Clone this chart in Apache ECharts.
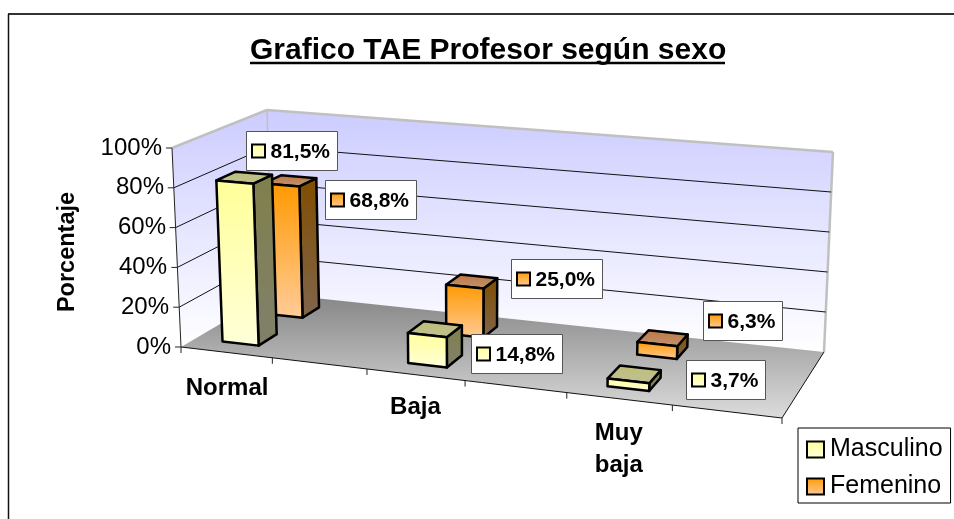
<!DOCTYPE html>
<html lang="es">
<head>
<meta charset="UTF-8">
<title>Grafico TAE Profesor según sexo</title>
<script src="https://cdn.jsdelivr.net/npm/echarts@6/dist/echarts.min.js"></script>
<style>
    html, body { margin: 0; padding: 0; height: 100%; overflow: hidden; background: #fff; }
    #chart { width: 954px; height: 519px; }
</style>
</head>
<body>
<div id="chart"></div>
<script>
    // data (blank categories are the empty slots between groups)
    var categories = ['Normal', '', 'Baja', '', 'Muy baja', ''];
    var masculino = [81.5, null, 14.8, null, 3.7, null];
    var femenino = [68.8, null, 25.0, null, 6.3, null];
    var yTicks = [0, 20, 40, 60, 80, 100];

    // floor corners and wall height vectors of the 3d box, in pixels
    var FL = [181, 347], FR = [782, 418], BR = [824, 352], BL = [272, 293.5];
    var hFL = [-9, -199], hFR = [8, -216], hBR = [9, -200], hBL = [-5, -183.5];
    var FONT = 'Liberation Sans';

    // homography of the unit square to the floor quad
    var sx = FL[0] - FR[0] + BR[0] - BL[0], sy = FL[1] - FR[1] + BR[1] - BL[1];
    var dx1 = FR[0] - BR[0], dx2 = BL[0] - BR[0], dy1 = FR[1] - BR[1], dy2 = BL[1] - BR[1];
    var den = dx1 * dy2 - dx2 * dy1;
    var g = (sx * dy2 - dx2 * sy) / den, h = (dx1 * sy - sx * dy1) / den;

    function project(u, v, w) {
        var d = 1 + g * u + h * v;
        var x = ((FR[0] - FL[0] + g * FR[0]) * u + (BL[0] - FL[0] + h * BL[0]) * v + FL[0]) / d;
        var y = ((FR[1] - FL[1] + g * FR[1]) * u + (BL[1] - FL[1] + h * BL[1]) * v + FL[1]) / d;
        var hx = (1 - u) * (1 - v) * hFL[0] + u * (1 - v) * hFR[0] + u * v * hBR[0] + (1 - u) * v * hBL[0];
        var hy = (1 - u) * (1 - v) * hFL[1] + u * (1 - v) * hFR[1] + u * v * hBR[1] + (1 - u) * v * hBL[1];
        return [x + w * hx, y + w * hy];
    }

    function grad(x0, y0, x1, y1, from, to) {
        return new echarts.graphic.LinearGradient(x0, y0, x1, y1, [
            { offset: 0, color: from }, { offset: 1, color: to }
        ]);
    }

    function poly(points, fill, stroke, width) {
        return { type: 'polygon', shape: { points: points }, style: { fill: fill, stroke: stroke || null, lineWidth: width || 0, lineJoin: 'round' } };
    }

    function line(a, b, color, width) {
        return { type: 'line', shape: { x1: a[0], y1: a[1], x2: b[0], y2: b[1] }, style: { stroke: color, lineWidth: width } };
    }

    // value axis pixel -> height fraction of the wall
    function heightOf(api, cs, val) {
        return (cs.y + cs.height - api.coord([0, val])[1]) / cs.height;
    }

    function renderBox(params, api) {
        var cs = params.coordSys;
        var children = [];
        var wallFill = grad(0, 0, 0, 1, '#ccccff', '#ffffff');
        children.push(poly([project(0, 0, 0), project(0, 1, 0), project(0, 1, 1), project(0, 0, 1)], wallFill));
        children.push(poly([project(0, 1, 0), project(1, 1, 0), project(1, 1, 1), project(0, 1, 1)], wallFill));
        children.push(poly([FL, FR, BR, BL], grad(0, 0, 0, 1, '#858585', '#dcdcdc')));
        // grey wall edges
        children.push(line(project(0, 0, 1), project(0, 1, 1), '#c0c0c0', 2.5));
        children.push(line(project(0, 1, 1), project(1, 1, 1), '#c0c0c0', 2.5));
        children.push(line(project(1, 1, 1), project(1, 1, 0), '#c0c0c0', 2.5));
        children.push(line(project(0, 1, 1), project(0, 1, 0), '#c0c0c0', 1.5));
        // grid lines and value ticks
        yTicks.forEach(function (t) {
            var w = heightOf(api, cs, t);
            var p = project(0, 0, w);
            children.push(line([p[0] - 6, p[1]], p, '#222', 1));
            if (t > 0 && t < 100) {
                children.push(line(p, project(0, 1, w), '#111', 1));
                children.push(line(project(0, 1, w), project(1, 1, w), '#111', 1));
            }
        });
        // axis lines and category ticks
        children.push(line(project(0, 0, 0), project(0, 0, 1), '#222', 1));
        children.push(line(FL, FR, '#111', 1));
        children.push(line(FR, BR, '#111', 1));
        for (var i = 0; i <= categories.length; i++) {
            var p = project(i / categories.length, 0, 0);
            children.push(line(p, [p[0], p[1] + 6], '#222', 1));
        }
        return { type: 'group', children: children };
    }

    // v0, v1: depth slot of the series row
    function barRenderer(v0, v1, colors) {
        return function (params, api) {
            var cs = params.coordSys;
            var pt = api.coord([api.value(0), api.value(1)]);
            var band = api.size([1, 0])[0];
            var u0 = (pt[0] - 0.2 * band - cs.x) / cs.width;
            var u1 = (pt[0] + 0.2 * band - cs.x) / cs.width;
            var w = (cs.y + cs.height - pt[1]) / cs.height;
            var front = [project(u0, v0, w), project(u1, v0, w), project(u1, v0, 0), project(u0, v0, 0)];
            var side = [project(u1, v0, w), project(u1, v1, w), project(u1, v1, 0), project(u1, v0, 0)];
            var top = [project(u0, v1, w), project(u1, v1, w), project(u1, v0, w), project(u0, v0, w)];
            return {
                type: 'group',
                children: [
                    poly(side, grad(0, 0, 0, 1, colors.side[0], colors.side[1]), '#000', 2.5),
                    poly(top, grad(0, 0, 0, 1, colors.top[0], colors.top[1]), '#000', 2.5),
                    poly(front, grad(0, 0, 0, 1, colors.front[0], colors.front[1]), '#000', 2.5)
                ]
            };
        };
    }

    function labelRenderer(v0, v1, colors, offsets) {
        return function (params, api) {
            var cs = params.coordSys;
            var cat = api.value(0), val = api.value(1);
            var pt = api.coord([cat, val]);
            var w = (cs.y + cs.height - pt[1]) / cs.height;
            var a = project((pt[0] - cs.x) / cs.width, (v0 + v1) / 2, w);
            var off = offsets[cat];
            var text = val.toFixed(1).replace('.', ',') + '%';
            var bw = text.length > 4 ? 91 : 79, bh = 39;
            var x = Math.round(a[0] + off[0] - bw / 2) + 0.5, y = Math.round(a[1] + off[1] - bh / 2) + 0.5;
            return {
                type: 'group',
                children: [
                    { type: 'rect', shape: { x: x, y: y, width: bw, height: bh }, style: { fill: '#fff', stroke: '#555', lineWidth: 1 } },
                    { type: 'rect', shape: { x: x + 5.5, y: y + 13, width: 13, height: 13 }, style: { fill: grad(0, 0, 0, 1, colors.front[0], colors.front[1]), stroke: '#000', lineWidth: 2 } },
                    { type: 'text', style: { x: x + 24, y: y + bh / 2 + 1, text: text, fill: '#000', font: 'bold 21px "' + FONT + '"', verticalAlign: 'middle', align: 'left' } }
                ]
            };
        };
    }

    function pairs(values) {
        var out = [];
        values.forEach(function (v, i) { if (v !== null) out.push([i, v]); });
        return out;
    }

    var colorsM = { front: ['#ffff99', '#ffffd9'], side: ['#80804c', '#80806c'], top: ['#bfbf73', '#bfbf99'] };
    var colorsF = { front: ['#ff9900', '#ffcc99'], side: ['#804d00', '#80664d'], top: ['#bf7340', '#bf9973'] };
    var offsetsM = { 0: [47, -27], 2: [81, 24], 4: [91, 5] };
    var offsetsF = { 0: [80, 19], 2: [85, -3], 4: [80, -18] };

    // lean of the value labels follows the tilted axis
    var yRich = {};
    yTicks.forEach(function (t) {
        yRich['y' + t] = { fontFamily: FONT, fontSize: 24, color: '#000', padding: [0, Math.round(9 * t / 100), 0, 0] };
    });

    var catLabel = { fontFamily: FONT, fontWeight: 'bold', fontSize: 24, color: '#000' };

    var chart = echarts.init(document.getElementById('chart'));
    chart.setOption({
        animation: false,
        backgroundColor: '#fff',
        title: {
            text: 'Grafico TAE Profesor según sexo',
            left: 250, top: 36, padding: 0,
            textStyle: { fontFamily: FONT, fontWeight: 'bold', fontSize: 30, color: '#000' }
        },
        graphic: [
            { type: 'line', z: 0, shape: { x1: 8, y1: 14, x2: 954, y2: 14 }, style: { stroke: '#333', lineWidth: 2 } },
            { type: 'line', z: 0, shape: { x1: 8.5, y1: 14, x2: 8.5, y2: 519 }, style: { stroke: '#111', lineWidth: 1.5 } },
            { type: 'line', z: 0, shape: { x1: 250, y1: 63, x2: 725, y2: 63 }, style: { stroke: '#000', lineWidth: 2.5 } }
        ],
        legend: {
            data: ['Masculino', 'Femenino'],
            orient: 'vertical',
            left: 798, top: 428, padding: [9, 8, 4, 8],
            backgroundColor: '#fff', borderColor: '#000', borderWidth: 1,
            icon: 'rect',
            itemWidth: 17, itemHeight: 16, itemGap: 12,
            selectedMode: false,
            textStyle: { fontFamily: FONT, fontSize: 25, color: '#000', padding: [0, 0, 0, 1] }
        },
        grid: { left: 181, top: 148, width: 601, height: 199 },
        xAxis: {
            type: 'category',
            z: 10,
            data: categories,
            axisLine: { show: false },
            axisTick: { show: false },
            axisLabel: {
                interval: 0,
                margin: 0,
                formatter: function (value) {
                    if (value === 'Normal') return '{c0|Normal}';
                    if (value === 'Baja') return '{c2|Baja}';
                    if (value === 'Muy baja') return '{sp| }\n{c4|Muy}\n{c4|baja}';
                    return '';
                },
                rich: {
                    c0: Object.assign({ lineHeight: 24, padding: [58, 8, 0, 0] }, catLabel),
                    c2: Object.assign({ lineHeight: 24, padding: [96, 32, 0, 0] }, catLabel),
                    sp: { fontSize: 10, lineHeight: 70 },
                    c4: Object.assign({ lineHeight: 32, padding: [0, 26, 0, 0] }, catLabel)
                }
            }
        },
        yAxis: {
            type: 'value',
            min: 0, max: 100, interval: 20,
            name: 'Porcentaje',
            nameLocation: 'middle',
            nameGap: 101,
            nameTextStyle: { fontFamily: FONT, fontWeight: 'bold', fontSize: 23.5, color: '#000', padding: [0, 9, 0, 0] },
            axisLine: { show: false },
            axisTick: { show: false },
            splitLine: { show: false },
            axisLabel: {
                margin: 10,
                formatter: function (value) { return '{y' + value + '|' + value + '%}'; },
                rich: yRich
            }
        },
        series: [
            { type: 'custom', name: 'box', z: 1, silent: true, data: [[0, 0]], renderItem: renderBox, encode: { x: 0, y: 1 } },
            { type: 'custom', name: 'Femenino', z: 2, data: pairs(femenino), renderItem: barRenderer(0.65, 0.85, colorsF), encode: { x: 0, y: 1 },
              itemStyle: { color: grad(0, 0, 0, 1, colorsF.front[0], colorsF.front[1]), borderColor: '#000', borderWidth: 2 } },
            { type: 'custom', name: 'Masculino', z: 3, data: pairs(masculino), renderItem: barRenderer(0.15, 0.35, colorsM), encode: { x: 0, y: 1 },
              itemStyle: { color: grad(0, 0, 0, 1, colorsM.front[0], colorsM.front[1]), borderColor: '#000', borderWidth: 2 } },
            { type: 'custom', name: 'etiquetas F', z: 4, silent: true, data: pairs(femenino), renderItem: labelRenderer(0.65, 0.85, colorsF, offsetsF), encode: { x: 0, y: 1 } },
            { type: 'custom', name: 'etiquetas M', z: 4, silent: true, data: pairs(masculino), renderItem: labelRenderer(0.15, 0.35, colorsM, offsetsM), encode: { x: 0, y: 1 } }
        ]
    });
</script>
</body>
</html>
